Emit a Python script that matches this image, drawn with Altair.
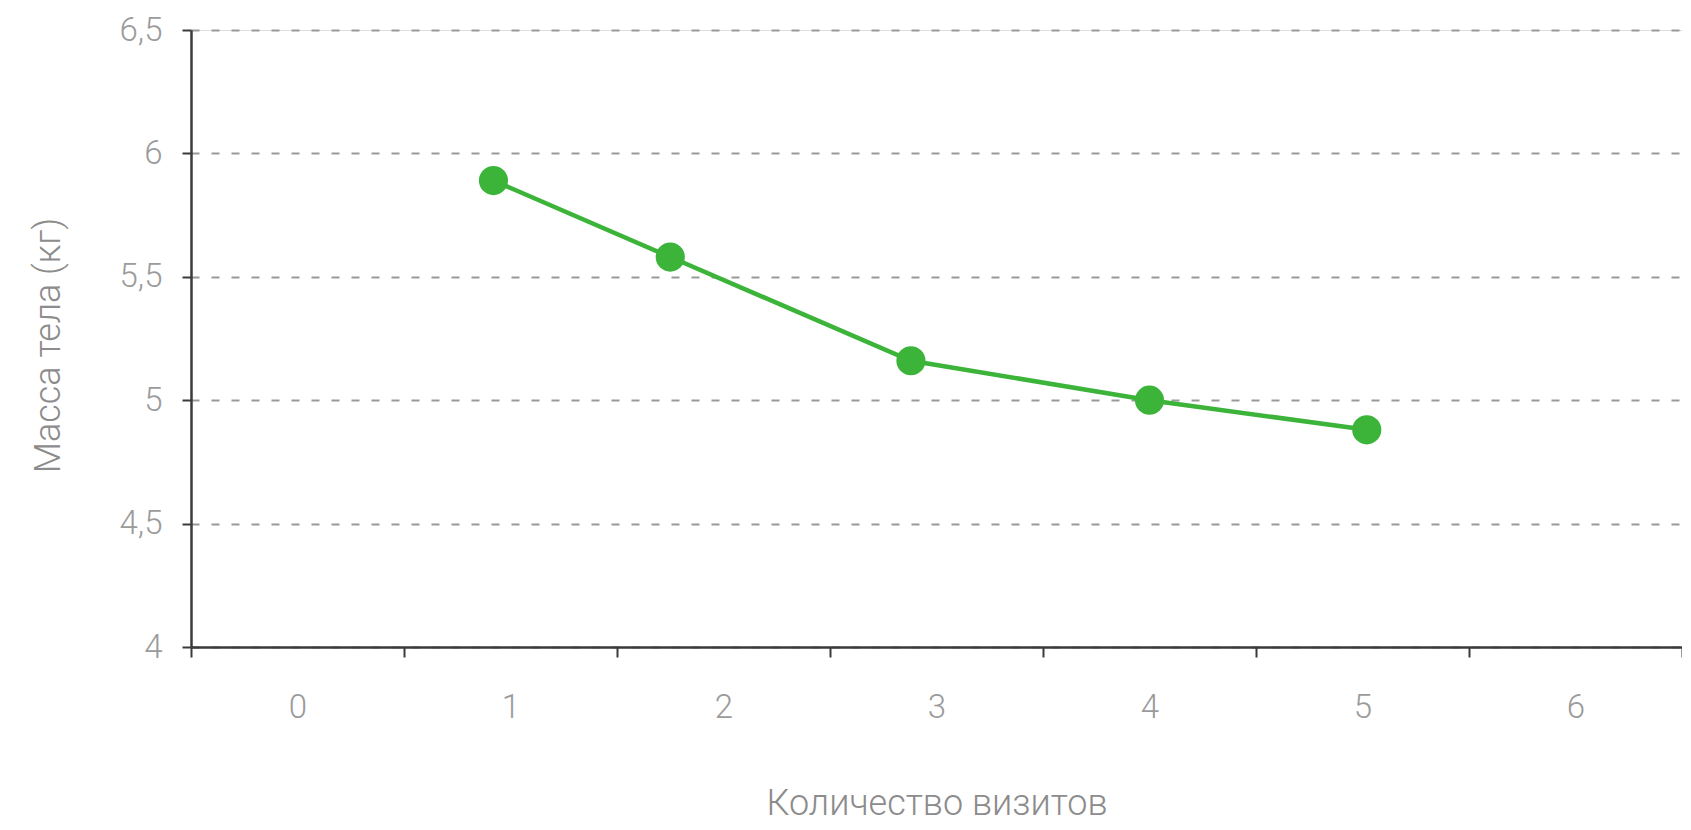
import altair as alt
import pandas as pd

visits = [0.92, 1.75, 2.88, 4.0, 5.02]
weight = [5.89, 5.58, 5.16, 5.0, 4.88]
x_ticks = [-0.5, 0, 0.5, 1, 1.5, 2, 2.5, 3, 3.5, 4, 4.5, 5, 5.5, 6, 6.5]
y_ticks = [4, 4.5, 5, 5.5, 6, 6.5]

df = pd.DataFrame({"visits": visits, "weight": weight})

FONT = "Roboto"
LABEL_COLOR = "#9b9b9b"
AXIS_COLOR = "#3a3a3a"
GREEN = "#3cb43a"

x = alt.X(
    "visits:Q",
    scale=alt.Scale(domain=[-0.5, 6.5], nice=False, zero=False),
    axis=alt.Axis(
        values=x_ticks,
        title="Количество визитов",
        grid=False,
        domainColor=AXIS_COLOR,
        domainWidth=2.5,
        tickColor=AXIS_COLOR,
        tickWidth=2,
        tickSize=10,
        tickOpacity=alt.condition("datum.value % 1 == 0", alt.value(0), alt.value(1)),
        labelExpr="datum.value % 1 == 0 ? format(datum.value, 'd') : ''",
        labelFont=FONT,
        labelFontSize=33,
        labelFontWeight=300,
        labelColor=LABEL_COLOR,
        labelPadding=34,
        labelAngle=0,
        titleFont=FONT,
        titleFontSize=36,
        titleFontWeight=300,
        titleColor="#8c8c8c",
        titleBaseline="middle",
        titleY=156,
    ),
)

y = alt.Y(
    "weight:Q",
    scale=alt.Scale(domain=[4, 6.5], nice=False, zero=False),
    axis=alt.Axis(
        values=y_ticks,
        title="Масса тела (кг)",
        grid=True,
        gridColor="#999999",
        gridDash=[8, 12],
        gridWidth=2,
        domainColor=AXIS_COLOR,
        domainWidth=2.5,
        tickColor=AXIS_COLOR,
        tickWidth=2,
        tickSize=9,
        labelExpr="replace(format(datum.value, '~g'), '.', ',')",
        labelFont=FONT,
        labelFontSize=33,
        labelFontWeight=300,
        labelColor=LABEL_COLOR,
        labelPadding=20,
        titleFont=FONT,
        titleFontSize=36,
        titleFontWeight=300,
        titleColor="#8c8c8c",
        titleBaseline="middle",
        titleX=-143,
        titleY=315,
    ),
)

base = alt.Chart(df)
line = base.mark_line(color=GREEN, strokeWidth=4.5).encode(x=x, y=y)
pts = base.mark_point(filled=True, color=GREEN, opacity=1, size=850).encode(x=x, y=y)

chart = (
    alt.layer(line, pts)
    .properties(
        width=1491,
        height=617,
        autosize=alt.AutoSizeParams(type="none"),
        padding={"left": 183, "top": 22, "right": 0, "bottom": 180},
    )
    .configure_view(stroke=None)
    .configure(background="white")
)

chart.save("out.html", embed_options={"renderer": "svg", "actions": False})
